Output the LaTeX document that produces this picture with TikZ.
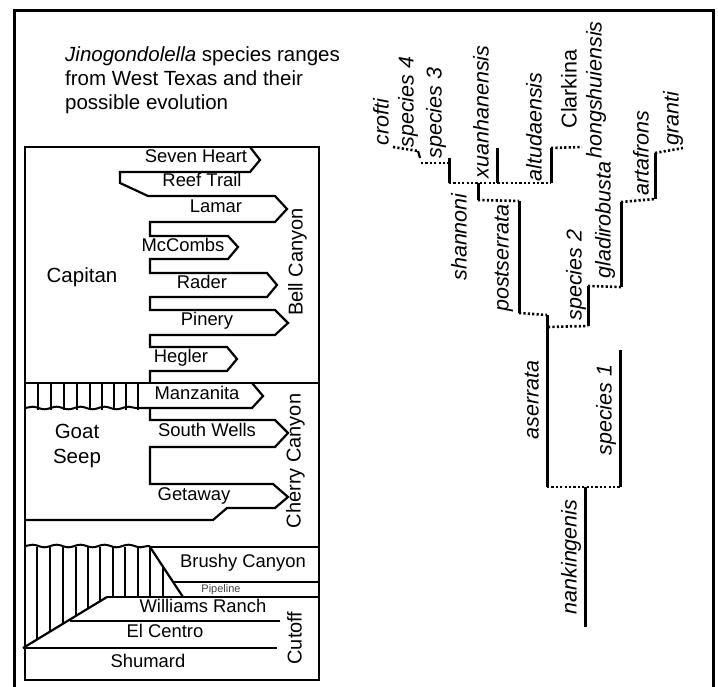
\documentclass[tikz,border=0pt]{standalone}
\usepackage{fontspec}
\setmainfont{Liberation Sans}
\usetikzlibrary{decorations.pathmorphing}
\begin{document}
\begin{tikzpicture}[x=1pt,y=-1pt,
  lbl/.style={inner sep=0pt, text height=0.72em, text depth=0pt, font=\fontsize{18.4}{20}\selectfont},
  big/.style={lbl, font=\fontsize{20.5}{22}\selectfont},
  vlbl/.style={lbl, font=\fontsize{20}{22}\selectfont, rotate=90},
  spc/.style={inner sep=0pt, text height=0.72em, text depth=0pt, font=\fontsize{21.5}{23}\selectfont\itshape, rotate=90},
  ttl/.style={inner sep=0pt, anchor=base west, font=\fontsize{20.5}{24}\selectfont},
  bx/.style={line width=2.2pt},
  tg/.style={line width=2.2pt, line join=miter},
  sol/.style={line width=3pt},
  dotl/.style={line width=2.6pt, dash pattern=on 2.2pt off 2.2pt},
  hatch/.style={line width=1.8pt},
  wave/.style={line width=2pt, decorate, decoration={snake, amplitude=1.3pt, segment length=24pt}}
]
\useasboundingbox (0,0) rectangle (718,687);
\clip (0,0) rectangle (718,687);
% outer frame
\draw[line width=3pt] (14.5,700) -- (14.5,11) -- (713,11) -- (713,700);

% title
\node[ttl] (t1) at (65,62) {\textit{Jinogondolella} species ranges};
\node[ttl] (t2) at (65,86) {from West Texas and their};
\node[ttl] (t3) at (65,110) {possible evolution};

% stratigraphic column box
\draw[bx] (25,147) rectangle (319,680);
\draw[bx] (25,383) -- (319,383);
\draw[bx] (150,547) -- (319,547);
\draw[bx] (173,582) -- (319,582);
\draw[bx] (107,597) -- (319,597);
\draw[bx] (70,621) -- (280,621);
\draw[bx] (23,648) -- (277,648);
\draw[bx] (150,547) -- (183,597);
\draw[bx] (107,597) -- (23,648);

% hatching (Manzanita level)
\begin{scope}
\clip (25,383) rectangle (139,409);
\foreach \xx in {38,51,64,77,90,102,114,126,138}
  \draw[hatch] (\xx,380) -- (\xx,412);
\end{scope}
\draw[wave] (25,408) -- (138,408);

% hatching (Brushy level)
\begin{scope}
\clip (25,547) -- (150,547) -- (183,597) -- (107,597) -- (24,648) -- cycle;
\foreach \xx in {37,50,63,76,88,100,113,125,138,150,163}
  \draw[hatch] (\xx,540) -- (\xx,650);
\end{scope}
\draw[wave] (25,546) -- (150,546);

% serpentine tongues
\draw[tg] (250,147) -- (260,160) -- (250,172) -- (120,172) -- (120,183) -- (148,196)
  -- (275,196) -- (287,209) -- (275,222) -- (150,222) -- (150,236)
  -- (228,236) -- (238,247) -- (228,259) -- (150,259) -- (150,273)
  -- (267,273) -- (277,285) -- (267,297) -- (150,297) -- (150,310)
  -- (275,310) -- (288,323) -- (275,335) -- (150,335) -- (150,347)
  -- (227,347) -- (237,359) -- (227,371) -- (150,371) -- (150,383);
\draw[tg] (252,383) -- (263,396) -- (252,408) -- (138,408);
\draw[tg] (150,408) -- (150,420) -- (275,420) -- (288,433) -- (275,447) -- (150,447)
  -- (150,484) -- (273,484) -- (288,497) -- (275,508) -- (227,508) -- (213,520) -- (25,520);

% column labels
\node[lbl] (l1) at (196,159) {Seven Heart};
\node[lbl] (l2) at (202,183) {Reef Trail};
\node[lbl] (l3) at (216,209) {Lamar};
\node[lbl] (l4) at (183,248) {McCombs};
\node[lbl] (l5) at (202,285) {Rader};
\node[lbl] (l6) at (207,322) {Pinery};
\node[lbl] (l7) at (181,359) {Hegler};
\node[lbl] (l8) at (197,396) {Manzanita};
\node[lbl] (l9) at (207,433) {South Wells};
\node[lbl] (l10) at (194,497) {Getaway};
\node[lbl] (l11) at (243,564) {Brushy Canyon};
\node[inner sep=0pt, text=black!75, font=\fontsize{11}{12}\selectfont] (l12) at (221,589.5) {Pipeline};
\node[lbl] (l13) at (203,609) {Williams Ranch};
\node[lbl] (l14) at (165,634) {El Centro};
\node[lbl] (l15) at (148,664) {Shumard};
\node[big] (cap) at (82,279) {Capitan};
\node[big] (goat) at (77,435) {Goat};
\node[big] (seep) at (77,460) {Seep};
\node[vlbl] (bell) at (299,262) {Bell Canyon};
\node[vlbl] (cherry) at (297,461) {Cherry Canyon};
\node[vlbl] (cutoff) at (298,638) {Cutoff};

% tree coordinates
\coordinate (nk0) at (585,627); \coordinate (nk1) at (585,487);
\coordinate (as0) at (547,487); \coordinate (as1) at (547,315); \coordinate (as2) at (548,327);
\coordinate (s1a) at (620,487); \coordinate (s1b) at (620,350);
\coordinate (ps0) at (519,313); \coordinate (ps1) at (519,201);
\coordinate (sp2a) at (588,326); \coordinate (sp2b) at (588,286);
\coordinate (gl0) at (621,287); \coordinate (gl1) at (621,202);
\coordinate (ar0) at (655,199); \coordinate (ar1) at (655,153);
\coordinate (gr) at (683,148);
\coordinate (sh0) at (478,200); \coordinate (sh1) at (478,183);
\coordinate (s3a) at (449,183); \coordinate (s3b) at (449,158);
\coordinate (xu0) at (497,183); \coordinate (xu1) at (497,148);
\coordinate (al0) at (551,183); \coordinate (al1) at (551,148);
\coordinate (cl) at (582,147);
\coordinate (s4a) at (421,163); \coordinate (s4b) at (418,151); \coordinate (s4c) at (420,158);
\coordinate (cr) at (393,147);

% solid ranges
\draw[sol] (nk0) -- (nk1);
\draw[sol] (as0) -- (as1);
\draw[sol] (s1a) -- (s1b);
\draw[sol] (ps0) -- (ps1);
\draw[sol] (sp2a) -- (sp2b);
\draw[sol] (gl0) -- (gl1);
\draw[sol] (ar0) -- (ar1);
\draw[sol] (sh0) -- (sh1);
\draw[sol] (s3a) -- (s3b);
\draw[sol] (xu0) -- (xu1);
\draw[sol] (al0) -- (al1);
\draw[line width=2.2pt] (s4b) -- (s4c);

% dotted links
\draw[dotl] (as0) -- (s1a);
\draw[dotl] (ps0) -- (as1);
\draw[dotl] (as2) -- (sp2a);
\draw[dotl] (sp2b) -- (gl0);
\draw[dotl] (gl1) -- (ar0);
\draw[dotl] (ar1) -- (gr);
\draw[dotl] (al1) -- (cl);
\draw[dotl] (s3a) -- (al0);
\draw[dotl] (sh0) -- (ps1);
\draw[dotl] (s4a) -- (s3a |- s4a);
\draw[dotl] (cr) -- (s4b);

% species labels
\node[spc] (n1) at (385,122) {crofti};
\node[spc] (n2) at (410,102) {species 4};
\node[spc] (n3) at (438,113) {species 3};
\node[spc] (n4) at (485,112) {xuanhanensis};
\node[spc] (n5) at (538,127) {altudaensis};
\node[inner sep=0pt, text height=0.72em, text depth=0pt, font=\fontsize{21.5}{23}\selectfont, rotate=90] (n6) at (573,89) {Clarkina};
\node[spc] (n7) at (598,90) {hongshuiensis};
\node[spc] (n8) at (645,153) {artafrons};
\node[spc] (n9) at (675,119) {granti};
\node[spc] (n10) at (463,237) {shannoni};
\node[spc] (n11) at (505,258) {postserrata};
\node[spc] (n12) at (578,275) {species 2};
\node[spc] (n13) at (607,220) {gladirobusta};
\node[spc] (n14) at (535,400) {aserrata};
\node[spc] (n15) at (608,410) {species 1};
\node[spc] (n16) at (573,557) {nankingenis};
\end{tikzpicture}
\end{document}
